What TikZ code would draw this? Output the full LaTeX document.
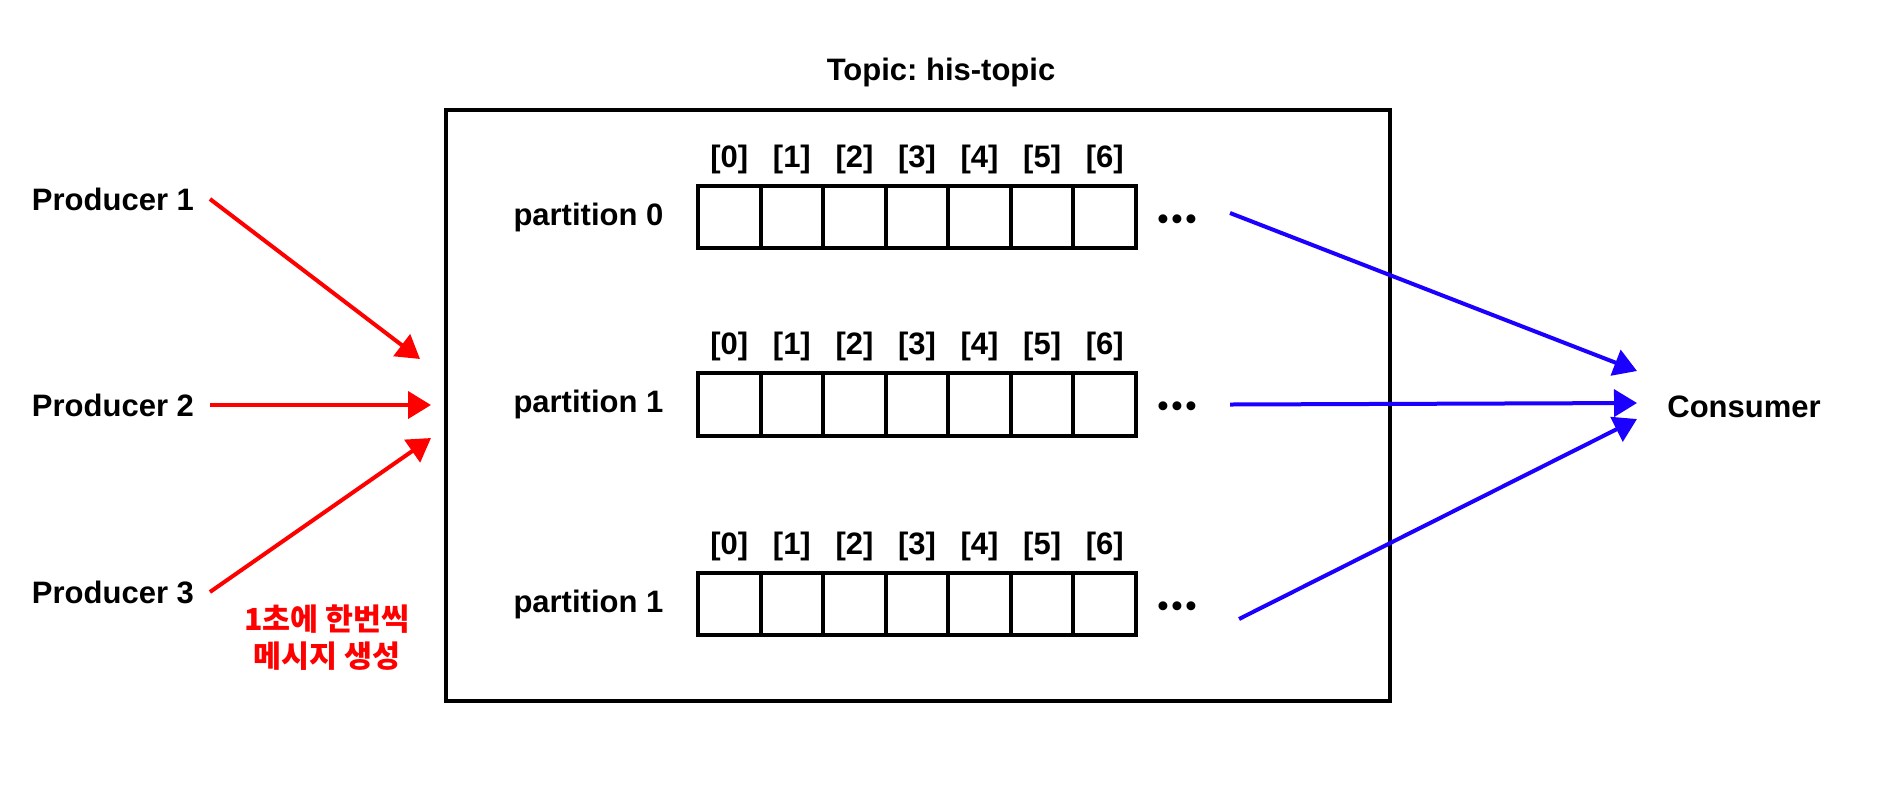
\documentclass[tikz,border=0pt]{standalone}
\usepackage{fontspec}
\setmainfont{Liberation Sans}
\newfontfamily\kofont{Noto Sans CJK KR}
\frenchspacing
\usetikzlibrary{arrows.meta,positioning}
\definecolor{sendred}{RGB}{255,0,0}
\definecolor{pollblue}{RGB}{28,0,255}
\newcommand{\moredots}{•\kern1.6pt•\kern1.6pt•}

\begin{document}
\begin{tikzpicture}[x=0.5pt,y=-0.5pt,line width=2pt,
        >={Triangle[length=11.5pt,width=13.5pt]},
        every node/.style={font=\fontsize{15.5}{18}\selectfont\bfseries,inner sep=0pt},
        cell/.style={draw,minimum size=31.3pt},
        send/.style={->,sendred},
        poll/.style={->,pollblue}]
        \useasboundingbox (0,0) rectangle (1878,810);
        \node[draw,minimum width=472pt,minimum height=295.5pt] at (917.5,405.5) (topic) {};
        \node                   at (941,72)    (title) {Topic: his-topic};
        \node[anchor=west]      at (30,199)    (p1)    {Producer 1};
        \node[anchor=west]      at (30,405)    (p2)    {Producer 2};
        \node[anchor=west]      at (30,592)    (p3)    {Producer 3};
        \node                   at (1744,407)  (cons)  {Consumer};
        \node[align=center,text=sendred,
              font=\kofont\fontsize{15.2}{18.5}\selectfont\bfseries]
                                at (327,638)   (note)  {1초에 한번씩\\메시지 생성};

        \foreach \r/\y/\name in {0/217/partition 0,1/404.5/partition 1,2/604/partition 1}{
            \node[anchor=west] at (511.5,\y) (part\r) {\name};
            \foreach \c in {0,...,6}{
                \node[cell] at ({729.3+62.57*\c},\y)      (c\r\c) {};
                \node       at ({729.3+62.57*\c},{\y-58}) (i\r\c) {[\c]};
            }
            \node at (1177,{\y+5}) (dots\r) {\moredots};
        }

        \coordinate (in1)  at (420,359);
        \coordinate (in2)  at (431,405);
        \coordinate (in3)  at (431,438);
        \coordinate (out0) at (1637,371);
        \coordinate (out1) at (1637,403);
        \coordinate (out2) at (1637,419);

        \path [send]
        ([xshift=7pt]p1.east) edge (in1)
        ([xshift=7pt]p2.east) edge (in2)
        ([xshift=7pt]p3.east) edge (in3);
        \path [poll]
        ([shift={(26.5pt,4.5pt)}]dots0.center) edge (out0)
        ([shift={(26.5pt,2.5pt)}]dots1.center) edge (out1)
        ([shift={(31pt,-5pt)}]dots2.center)    edge (out2);
    \end{tikzpicture}
\end{document}
